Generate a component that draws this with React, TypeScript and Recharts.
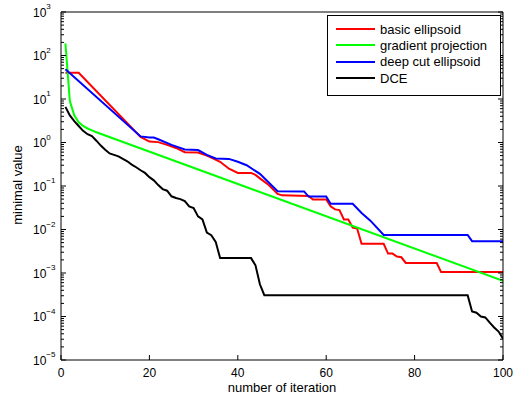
import React from 'react';
import { LineChart, Line, XAxis, YAxis, Legend } from 'recharts';

// iterations / values (vertices of each polyline)
const basicIter = [1, 4, 18, 20, 22, 24, 26, 28, 31, 33, 34, 36, 38, 40, 43, 44, 45, 47, 49, 50, 56, 57, 60, 61, 62, 63, 64, 65, 66, 67, 68, 73, 74, 75, 76, 77, 78, 85, 86, 100];
const basicVals = [40, 40, 1.34, 1.05, 1.02, 0.88, 0.75, 0.6, 0.59, 0.5, 0.45, 0.36, 0.25, 0.2, 0.2, 0.18, 0.15, 0.105, 0.066, 0.061, 0.059, 0.049, 0.049, 0.034, 0.029, 0.028, 0.017, 0.017, 0.011, 0.0105, 0.0047, 0.0047, 0.0028, 0.0028, 0.0024, 0.0023, 0.0017, 0.0017, 0.00105, 0.00105];

const gradIter = [1, 2, 3, 4, 5, 6, 7, 8, 100];
const gradVals = [190, 9, 4.2, 2.9, 2.4, 2.1, 1.9, 1.72, 0.00066];

const deepIter = [1, 18, 20, 21, 22, 25, 28, 31, 33, 35, 38, 40, 42, 45, 47, 49, 55, 56, 60, 61, 66, 68, 70, 73, 92, 93, 100];
const deepVals = [48, 1.38, 1.3, 1.3, 1.19, 0.88, 0.69, 0.67, 0.52, 0.43, 0.42, 0.36, 0.3, 0.19, 0.12, 0.076, 0.075, 0.057, 0.057, 0.039, 0.039, 0.024, 0.016, 0.0075, 0.0075, 0.0054, 0.0054];

const dceIter = [1, 2, 3, 4, 5, 6, 7, 8, 9, 10, 11, 12, 13, 14, 15, 16, 17, 18, 19, 20, 21, 22, 23, 24, 25, 26, 27, 28, 29, 30, 31, 32, 33, 34, 35, 36, 43, 44, 45, 46, 92, 93, 94, 95, 96, 97, 98, 99, 100];
const dceVals = [6.6, 4.2, 3.1, 2.4, 1.85, 1.55, 1.4, 1.1, 0.85, 0.68, 0.56, 0.52, 0.48, 0.42, 0.37, 0.31, 0.27, 0.23, 0.2, 0.16, 0.135, 0.105, 0.085, 0.078, 0.058, 0.053, 0.05, 0.045, 0.034, 0.031, 0.02, 0.017, 0.0085, 0.0074, 0.0052, 0.0022, 0.0022, 0.0015, 0.00055, 0.00031, 0.00031, 0.00013, 0.000122, 0.0001, 0.000095, 0.000072, 0.000056, 0.000045, 0.000031];

const seriesNames = ['basic ellipsoid', 'gradient projection', 'deep cut ellipsoid', 'DCE'];

const xTicks = [0, 20, 40, 60, 80, 100];
const yExponents = [-5, -4, -3, -2, -1, 0, 1, 2, 3];
const minorSteps = [2, 3, 4, 5, 6, 7, 8, 9];

const majorTicks = yExponents.map((e) => Math.pow(10, e));
const minorTicks = yExponents.slice(0, -1).flatMap((e) => minorSteps.map((m) => m * Math.pow(10, e)));
const yTicks = [...majorTicks, ...minorTicks];

const zip = (xs: number[], ys: number[]) => xs.map((x, i) => ({ iter: x, value: ys[i] }));

const FONT = '"Liberation Sans", Arial, Helvetica, sans-serif';

const isMajor = (v: number) => Math.abs(Math.log10(v) - Math.round(Math.log10(v))) < 1e-6;

function BottomTick({ x, y, payload }: any) {
  return (
    <g>
      <line x1={x} y1={y} x2={x} y2={y - 5} stroke="#000" />
      <text x={x} y={y + 17} textAnchor="middle" fontSize={12} fontFamily={FONT} fill="#000">
        {payload.value}
      </text>
    </g>
  );
}

function TopTick({ x, y }: any) {
  return <line x1={x} y1={y} x2={x} y2={y + 5} stroke="#000" />;
}

function LeftTick({ x, y, payload }: any) {
  const major = isMajor(payload.value);
  const exp = Math.round(Math.log10(payload.value));
  return (
    <g>
      <line x1={x} y1={y} x2={x + (major ? 5 : 3)} y2={y} stroke="#000" />
      {major && (
        <text x={x - 28} y={y + 4.5} fontSize={12} fontFamily={FONT} fill="#000">
          10
          <tspan dy={-7.5} fontSize={8}>
            {exp < 0 ? '\u2212' + -exp : String(exp)}
          </tspan>
        </text>
      )}
    </g>
  );
}

function RightTick({ x, y, payload }: any) {
  const major = isMajor(payload.value);
  return <line x1={x} y1={y} x2={x - (major ? 5 : 3)} y2={y} stroke="#000" />;
}

function XTitle() {
  return (
    <text x={282} y={392} textAnchor="middle" fontSize={13} fontFamily={FONT} fill="#000">
      number of iteration
    </text>
  );
}

function YTitle() {
  return (
    <text
      transform="rotate(-90)"
      x={-185}
      y={22}
      textAnchor="middle"
      fontSize={13}
      fontFamily={FONT}
      fill="#000"
    >
      minimal value
    </text>
  );
}

function LegendBox({ payload }: any) {
  // keep the plotting order, not the alphabetical one
  const items = [...(payload || [])].sort(
    (a: any, b: any) => seriesNames.indexOf(a.value) - seriesNames.indexOf(b.value)
  );
  return (
    <div
      style={{
        width: 174,
        height: 81,
        border: '1px solid #000',
        background: '#fff',
        boxSizing: 'border-box',
        paddingTop: 5,
        fontFamily: FONT,
        fontSize: 13,
      }}
    >
      {items.map((entry: any) => (
        <div key={entry.value} style={{ display: 'flex', alignItems: 'center', height: 16.3 }}>
          <svg width={52} height={6} style={{ flex: 'none' }}>
            <line x1={8} y1={3} x2={47} y2={3} stroke={entry.color} strokeWidth={2} />
          </svg>
          <span style={{ color: '#000', whiteSpace: 'nowrap' }}>{entry.value}</span>
        </div>
      ))}
    </div>
  );
}

export default function App() {
  return (
    <div style={{ position: 'absolute', left: 0, top: 0, background: '#fff' }}>
      <LineChart width={514} height={403} margin={{ top: 11, right: 10, bottom: 0, left: 0 }}>
        <XAxis
          xAxisId="b"
          dataKey="iter"
          type="number"
          domain={[0, 100]}
          ticks={xTicks}
          interval={0}
          height={43}
          tickSize={0}
          tickMargin={0}
          tickLine={false}
          axisLine={{ stroke: '#000' }}
          tick={(p: any) => <BottomTick {...p} />}
          label={<XTitle />}
          allowDataOverflow
        />
        <XAxis
          xAxisId="t"
          orientation="top"
          type="number"
          domain={[0, 100]}
          ticks={xTicks}
          interval={0}
          height={1}
          tickSize={0}
          tickMargin={0}
          tickLine={false}
          axisLine={{ stroke: '#000' }}
          tick={(p: any) => <TopTick {...p} />}
          allowDataOverflow
        />
        <YAxis
          yAxisId="l"
          type="number"
          scale="log"
          domain={[1e-5, 1e3]}
          ticks={yTicks}
          interval={0}
          width={61}
          tickSize={0}
          tickMargin={0}
          tickLine={false}
          axisLine={{ stroke: '#000' }}
          tick={(p: any) => <LeftTick {...p} />}
          label={<YTitle />}
          allowDataOverflow
        />
        <YAxis
          yAxisId="r"
          orientation="right"
          type="number"
          scale="log"
          domain={[1e-5, 1e3]}
          ticks={yTicks}
          interval={0}
          width={1}
          tickSize={0}
          tickMargin={0}
          tickLine={false}
          axisLine={{ stroke: '#000' }}
          tick={(p: any) => <RightTick {...p} />}
          allowDataOverflow
        />
        <Legend
          layout="vertical"
          align="center"
          verticalAlign="middle"
          wrapperStyle={{ left: 327, top: 15, width: 174, height: 81 }}
          content={(props: any) => <LegendBox {...props} />}
        />
        <Line
          xAxisId="b"
          yAxisId="l"
          data={zip(basicIter, basicVals)}
          dataKey="value"
          name={seriesNames[0]}
          stroke="#ff0000"
          strokeWidth={2}
          dot={false}
          type="linear"
          isAnimationActive={false}
        />
        <Line
          xAxisId="b"
          yAxisId="l"
          data={zip(gradIter, gradVals)}
          dataKey="value"
          name={seriesNames[1]}
          stroke="#00ff00"
          strokeWidth={2}
          dot={false}
          type="linear"
          isAnimationActive={false}
        />
        <Line
          xAxisId="b"
          yAxisId="l"
          data={zip(deepIter, deepVals)}
          dataKey="value"
          name={seriesNames[2]}
          stroke="#0000ff"
          strokeWidth={2}
          dot={false}
          type="linear"
          isAnimationActive={false}
        />
        <Line
          xAxisId="b"
          yAxisId="l"
          data={zip(dceIter, dceVals)}
          dataKey="value"
          name={seriesNames[3]}
          stroke="#000000"
          strokeWidth={2}
          dot={false}
          type="linear"
          isAnimationActive={false}
        />
      </LineChart>
    </div>
  );
}
